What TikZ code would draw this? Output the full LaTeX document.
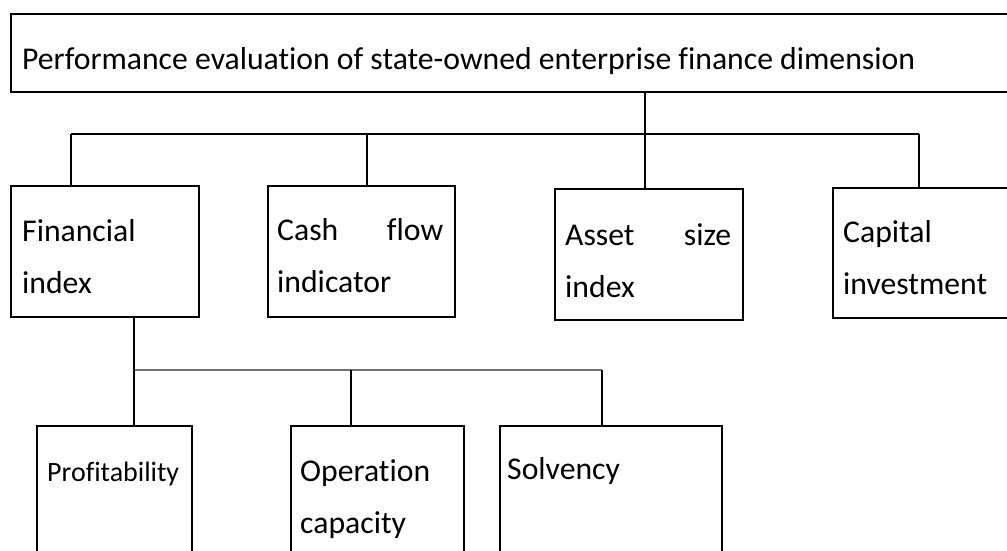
\documentclass[tikz,border=0pt]{standalone}
\usepackage{fontspec}
\setmainfont{Carlito}[Ligatures=NoCommon]
\begin{document}
\begin{tikzpicture}[x=1pt,y=-1pt,
  box/.style={draw=black, line width=1.6pt, rectangle, inner sep=0pt, anchor=north west},
  lbl/.style={anchor=base west, inner sep=0pt, align=left, font=\fontsize{31.7}{52}\selectfont},
  small/.style={anchor=base west, inner sep=0pt, align=left, font=\fontsize{28}{52}\selectfont},
  wire/.style={draw=black, line width=1.6pt},
  greywire/.style={draw=black!55, line width=1.6pt}]
\useasboundingbox (0,0) rectangle (1007,551);
\clip (0,0) rectangle (1007,551);

% top level
\node[box, minimum width=1010, minimum height=78] (top) at (10,13) {};
\node[lbl] (topT) at (22,70) {Performance evaluation of state-owned enterprise finance dimension};

% second level boxes
\node[box, minimum width=188, minimum height=131] (fin) at (10,185) {};
\node[box, minimum width=187, minimum height=131] (cash) at (267,185) {};
\node[box, minimum width=188, minimum height=131] (asset) at (554,188) {};
\node[box, minimum width=190, minimum height=130] (cap) at (832,187) {};

% two-line labels are placed by the baseline of their last line
\node[lbl] (finT) at (22,293) {Financial\\index};
\node[lbl] (cashT) at (277,292) {\makebox[166pt][s]{Cash flow}\\indicator};
\node[lbl] (assetT) at (565,297) {\makebox[166pt][s]{Asset size}\\index};
\node[lbl] (capT) at (843,294) {Capital\\investment};

% third level boxes
\node[box, minimum width=155, minimum height=160] (prof) at (36,425) {};
\node[box, minimum width=173, minimum height=160] (oper) at (290,425) {};
\node[box, minimum width=222, minimum height=160] (solv) at (499,425) {};

\node[small] (profT) at (47,481) {Profitability};
\node[lbl] (operT) at (300,533) {Operation\\capacity};
\node[lbl] (solvT) at (507,479) {Solvency};

% first bus
\coordinate (b1) at (71,134);
\coordinate (b2) at (367,134);
\coordinate (b3) at (645,134);
\coordinate (b4) at (919,134);
\draw[wire] (b1) -- (b4);
\draw[wire] (top.south -| b3) -- (b3 |- asset.north);
\draw[wire] (b1) -- (b1 |- fin.north);
\draw[wire] (b2) -- (b2 |- cash.north);
\draw[wire] (b4) -- (b4 |- cap.north);

% second bus
\coordinate (c1) at (134,370);
\coordinate (c2) at (351,370);
\coordinate (c3) at (602,370);
\draw[greywire] (c1) -- (c3);
\draw[wire] (c1 |- fin.south) -- (c1 |- prof.north);
\draw[wire] (c2) -- (c2 |- oper.north);
\draw[wire] (c3) -- (c3 |- solv.north);
\end{tikzpicture}
\end{document}
